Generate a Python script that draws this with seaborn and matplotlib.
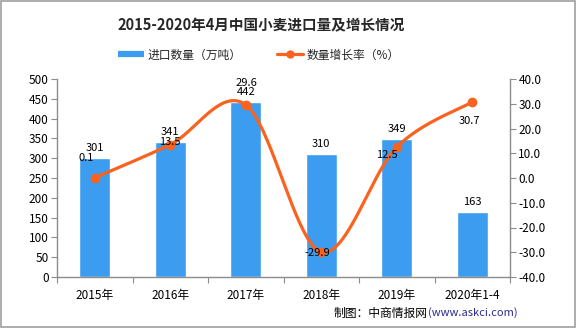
import numpy as np
import pandas as pd
import matplotlib
matplotlib.use("Agg")
import matplotlib.pyplot as plt
from matplotlib.lines import Line2D
import seaborn as sns

# Data
categories = ["2015年", "2016年", "2017年", "2018年", "2019年", "2020年1-4"]
import_volume = [301, 341, 442, 310, 349, 163]          # 万吨
growth_rate = [0.1, 13.5, 29.6, -29.9, 12.5, 30.7]     # %

BAR_COLOR = "#3C9CF0"
LINE_COLOR = "#F9621F"
AXIS_COLOR = "#8C8C8C"

sns.set_theme(style="white")
plt.rcParams["font.family"] = ["Noto Sans CJK SC", "DejaVu Sans"]
plt.rcParams["axes.unicode_minus"] = False

fig = plt.figure(figsize=(5.76, 3.28), dpi=100)
ax = fig.add_axes([57 / 576, 1 - 277 / 328, (510 - 57) / 576, (277 - 79) / 328])

df = pd.DataFrame({"cat": categories, "vol": import_volume})
sns.barplot(data=df, x="cat", y="vol", color=BAR_COLOR, width=0.41,
            saturation=1, ax=ax)
ax.set_xlim(-0.5, len(categories) - 0.5)
ax.set_ylim(0, 500)
ax.set_yticks(np.arange(0, 501, 50))
ax.set_xlabel("")
ax.set_ylabel("")

# bar value labels
for i, v in enumerate(import_volume):
    ax.annotate(f"{v}", (i, v), xytext=(0, 10), textcoords="offset pixels",
                ha="center", va="center", fontsize=8, color="black")

# secondary axis for growth rate
ax2 = ax.twinx()
ax2.set_ylim(-40, 40)
ax2.set_yticks(np.arange(-40, 41, 10))
ax2.set_yticklabels([f"{t:.1f}" for t in np.arange(-40, 41, 10)])

# smooth curve (Catmull-Rom) through the growth points
xs = np.arange(len(growth_rate), dtype=float)
ys = np.array(growth_rate, dtype=float)
px = np.concatenate([[xs[0]], xs, [xs[-1]]])
py = np.concatenate([[ys[0]], ys, [ys[-1]]])
cx, cy = [], []
t = np.linspace(0, 1, 40)
for k in range(1, len(px) - 2):
    p0x, p1x, p2x, p3x = px[k - 1:k + 3]
    p0y, p1y, p2y, p3y = py[k - 1:k + 3]
    b1x, b1y = p1x + (p2x - p0x) / 6, p1y + (p2y - p0y) / 6
    b2x, b2y = p2x - (p3x - p1x) / 6, p2y - (p3y - p1y) / 6
    bx = (1 - t) ** 3 * p1x + 3 * (1 - t) ** 2 * t * b1x + 3 * (1 - t) * t ** 2 * b2x + t ** 3 * p2x
    by = (1 - t) ** 3 * p1y + 3 * (1 - t) ** 2 * t * b1y + 3 * (1 - t) * t ** 2 * b2y + t ** 3 * p2y
    cx.extend(bx)
    cy.extend(by)
sns.lineplot(x=cx, y=cy, ax=ax2, color=LINE_COLOR, lw=2.3, sort=False,
             estimator=None)
ax2.plot(xs, ys, linestyle="none", marker="o", ms=6, color=LINE_COLOR)
ax2.set_xlim(-0.5, len(categories) - 0.5)

label_offsets = [(-9, 20), (0, 3), (1, 22), (-4, -1), (-10, -8), (-3, -19)]
for i, (v, off) in enumerate(zip(growth_rate, label_offsets)):
    ax2.annotate(f"{v:.1f}", (i, v), xytext=off, textcoords="offset pixels",
                 ha="center", va="center", fontsize=8, color="black")

# axes styling
for a in (ax, ax2):
    a.grid(False)
    for s in a.spines.values():
        s.set_visible(False)
ax.spines["left"].set_visible(True)
ax.spines["bottom"].set_visible(True)
ax2.spines["right"].set_visible(True)
for s in (ax.spines["left"], ax.spines["bottom"], ax2.spines["right"]):
    s.set_color(AXIS_COLOR)
    s.set_linewidth(1.0)

ax.tick_params(axis="y", which="major", left=True, length=4, width=0.8,
               color=AXIS_COLOR, labelsize=8.5, pad=2, labelcolor="black")
ax2.tick_params(axis="y", which="major", right=True, length=4, width=0.8,
                color=AXIS_COLOR, labelsize=8.5, pad=2, labelcolor="black")
ax.set_xticks(range(len(categories)))
ax.set_xticklabels(categories)
ax.set_xticks(np.arange(-0.5, len(categories), 1.0), minor=True)
ax.tick_params(axis="x", which="major", bottom=False, labelsize=8.5, pad=3,
               labelcolor="black")
ax.tick_params(axis="x", which="minor", bottom=True, length=4, width=0.8,
               color=AXIS_COLOR)
ax2.tick_params(axis="x", which="both", bottom=False, top=False)

# title
fig.text(261 / 576, 1 - 25 / 328, "2015-2020年4月中国小麦进口量及增长情况",
         ha="center", va="center", fontsize=10.5, fontweight="bold")

# legend
handles = [
    Line2D([], [], color=BAR_COLOR, lw=4.5, solid_capstyle="butt"),
    Line2D([], [], color=LINE_COLOR, lw=2.3, marker="o", ms=5),
]
fig.legend(handles, ["进口数量（万吨）", "数量增长率（%）"], loc="center",
           bbox_to_anchor=(259 / 576, 1 - 55 / 328), ncol=2, frameon=False,
           fontsize=8.5, handlelength=2.2, handletextpad=0.3,
           columnspacing=3.0)

# source note
fig.text(428 / 576, 1 - 313 / 328, "制图：中商情报网", ha="right", va="center",
         fontsize=8.5, color="black")
fig.text(428 / 576, 1 - 313 / 328, "(www.askci.com)", ha="left", va="center",
         fontsize=8, color="#2B2B8F")

# outer frame
fig.patches.append(plt.Rectangle((0.001, 0.002), 0.997, 0.996,
                                 transform=fig.transFigure, fill=False,
                                 edgecolor="#A0A0A0", lw=1.2))

fig.savefig("out.png", dpi=100)
